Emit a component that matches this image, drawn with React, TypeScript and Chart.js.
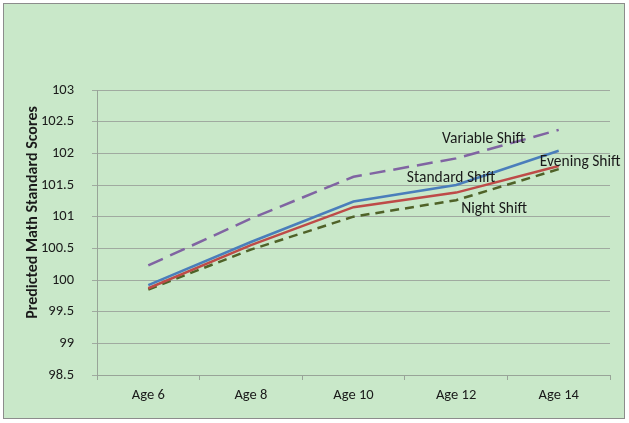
import React, { useEffect, useRef } from "react";
import { Chart, registerables } from "chart.js";

Chart.register(...registerables);

const categories = ["Age 6", "Age 8", "Age 10", "Age 12", "Age 14"];
const standardShift = [99.92, 100.6, 101.24, 101.5, 102.04];
const eveningShift = [99.87, 100.55, 101.15, 101.38, 101.8];
const nightShift = [99.85, 100.48, 101.0, 101.26, 101.75];
const variableShift = [100.23, 100.97, 101.63, 101.92, 102.37];
const yMin = 98.5;
const yMax = 103;
const yStep = 0.5;
const yTitle = "Predicted Math Standard Scores";

const FONT = "Carlito, Calibri, Lato, 'Open Sans', sans-serif";

const backgroundPlugin = {
  id: "bgFrame",
  beforeDraw(chart: any) {
    const ctx = chart.ctx;
    ctx.save();
    ctx.fillStyle = "#ffffff";
    ctx.fillRect(0, 0, chart.width, chart.height);
    ctx.fillStyle = "#c9e8c9";
    ctx.fillRect(3.5, 3.5, 621, 415);
    ctx.strokeStyle = "#8c8c8c";
    ctx.lineWidth = 1;
    ctx.strokeRect(3.5, 3.5, 621, 415);
    ctx.restore();
  },
  afterDraw(chart: any) {
    const ctx = chart.ctx;
    const area = chart.chartArea;
    ctx.save();
    ctx.translate(33, (area.top + area.bottom) / 2 - 20);
    ctx.rotate(-Math.PI / 2);
    ctx.font = `bold 16px ${FONT}`;
    ctx.fillStyle = "#1a1a1a";
    ctx.textAlign = "center";
    ctx.textBaseline = "middle";
    ctx.fillText(yTitle, 0, 0);
    ctx.restore();
  },
};

const seriesLabels = [
  { text: "Variable Shift", ds: 3, idx: 3, dx: 27.5, dy: -19 },
  { text: "Standard Shift", ds: 0, idx: 3, dx: -5, dy: -7 },
  { text: "Evening Shift", ds: 1, idx: 4, dx: 21.5, dy: -4 },
  { text: "Night Shift", ds: 2, idx: 3, dx: 38, dy: 9 },
];

const labelPlugin = {
  id: "seriesLabels",
  afterDatasetsDraw(chart: any) {
    const ctx = chart.ctx;
    ctx.save();
    ctx.font = `15.5px ${FONT}`;
    ctx.fillStyle = "#1a1a1a";
    ctx.textAlign = "center";
    ctx.textBaseline = "middle";
    for (const l of seriesLabels) {
      const pt = chart.getDatasetMeta(l.ds).data[l.idx];
      if (!pt) continue;
      ctx.fillText(l.text, pt.x + l.dx, pt.y + l.dy);
    }
    ctx.restore();
  },
};

export default function App() {
  const ref = useRef<HTMLCanvasElement | null>(null);
  useEffect(() => {
    if (!ref.current) return;
    const chart = new Chart(ref.current, {
      type: "line",
      data: {
        labels: categories,
        datasets: [
          {
            label: "Standard Shift",
            data: standardShift,
            borderColor: "#4a7ebb",
            borderWidth: 2.5,
            pointRadius: 0,
            tension: 0,
          },
          {
            label: "Evening Shift",
            data: eveningShift,
            borderColor: "#be4b48",
            borderWidth: 2.5,
            pointRadius: 0,
            tension: 0,
          },
          {
            label: "Night Shift",
            data: nightShift,
            borderColor: "#4f6228",
            borderWidth: 2.5,
            borderDash: [9, 6],
            pointRadius: 0,
            tension: 0,
          },
          {
            label: "Variable Shift",
            data: variableShift,
            borderColor: "#8064a2",
            borderWidth: 2.5,
            borderDash: [16, 8],
            pointRadius: 0,
            tension: 0,
          },
        ],
      },
      options: {
        responsive: false,
        animation: false,
        layout: { padding: { top: 90, right: 19, bottom: 0, left: 0 } },
        plugins: {
          legend: { display: false },
          tooltip: { enabled: false },
        },
        scales: {
          x: {
            type: "category",
            offset: true,
            grid: {
              offset: true,
              drawOnChartArea: false,
              drawTicks: true,
              tickLength: 5,
              color: "#98a498",
            },
            border: { display: true, color: "#98a498" },
            ticks: {
              padding: 7,
              color: "#1a1a1a",
              font: { family: FONT, size: 14.5 },
              maxRotation: 0,
            },
            afterFit(s: any) {
              s.height = 48;
            },
          },
          y: {
            min: yMin,
            max: yMax,
            ticks: {
              stepSize: yStep,
              padding: 18,
              color: "#1a1a1a",
              font: { family: FONT, size: 14.5 },
              callback: (v: any) => String(Number(v)),
            },
            grid: {
              color: "#a0aaa0",
              tickLength: 5,
              lineWidth: 1,
            },
            border: { display: true, color: "#98a498" },
            afterFit(s: any) {
              s.width = 97;
            },
          },
        },
      },
      plugins: [backgroundPlugin, labelPlugin],
    });
    return () => chart.destroy();
  }, []);
  return (
    <div style={{ position: "absolute", left: 0, top: 0, width: 629, height: 423 }}>
      <canvas ref={ref} width={629} height={423} />
    </div>
  );
}
